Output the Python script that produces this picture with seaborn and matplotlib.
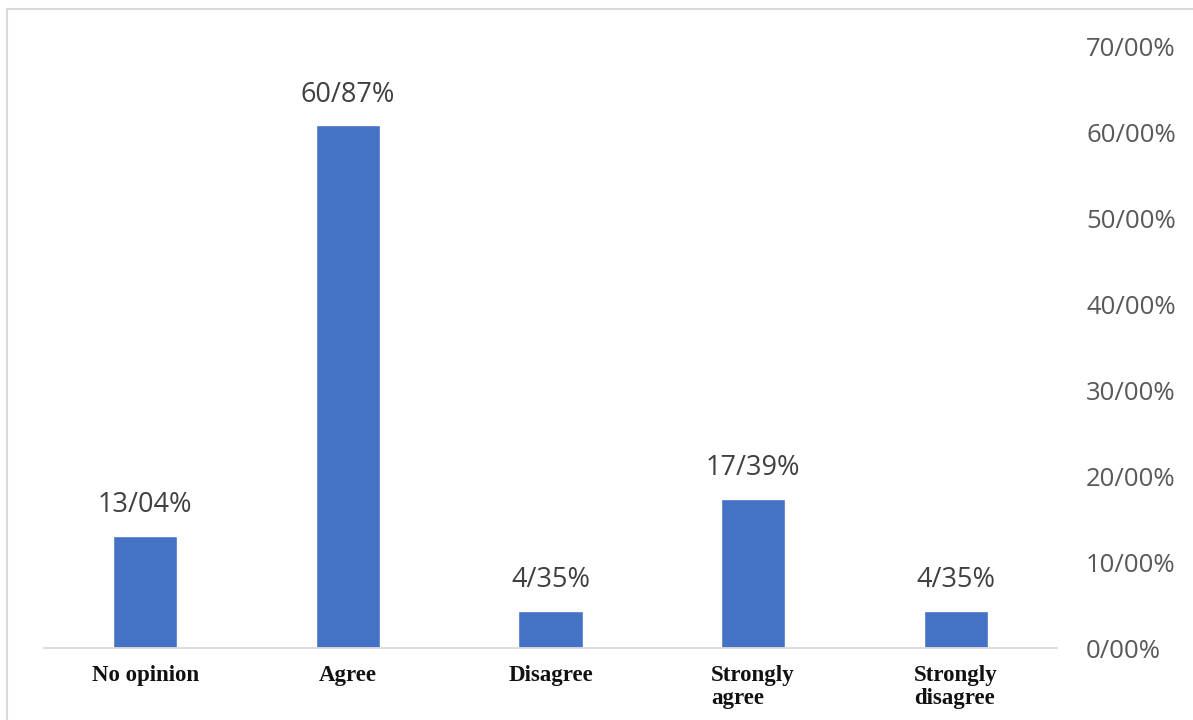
import matplotlib
matplotlib.use("Agg")
import matplotlib.pyplot as plt
import seaborn as sns
import pandas as pd
from matplotlib.patches import Rectangle

categories = ["No opinion", "Agree", "Disagree", "Strongly\nagree", "Strongly\ndisagree"]
values = [13.04, 60.87, 4.35, 17.39, 4.35]
value_labels = ["13/04%", "60/87%", "4/35%", "17/39%", "4/35%"]
yticks = [0, 10, 20, 30, 40, 50, 60, 70]
ytick_labels = ["0/00%", "10/00%", "20/00%", "30/00%", "40/00%", "50/00%", "60/00%", "70/00%"]

sns.set_theme(style="white")
plt.rcParams['font.family'] = ['Open Sans', 'DejaVu Sans']

df = pd.DataFrame({"cat": categories, "val": values})

fig = plt.figure(figsize=(11.93, 7.20), dpi=100)
ax = fig.add_axes([44/1193, 1-648/720, (1057-44)/1193, (648-47)/720])

sns.barplot(data=df, x="cat", y="val", color="#4472C4", saturation=1,
            width=0.316, ax=ax)

ax.set_ylim(0, 70)
ax.set_xlim(-0.5, 4.5)
ax.yaxis.tick_right()
ax.set_yticks(yticks)
ax.set_yticklabels(ytick_labels, fontsize=18.5, color="#595959")
ax.tick_params(axis="y", length=0, pad=21)
ax.tick_params(axis="x", length=0, pad=12)
ax.set_xticks(range(len(categories)))
ax.set_xticklabels(categories, family="Liberation Serif", fontweight="bold",
                   fontsize=16.5, color="#111111", linespacing=1.15,
                   va="top", ha="center", multialignment="left")
ax.set_xlabel("")
ax.set_ylabel("")
for s in ["top", "left", "right"]:
    ax.spines[s].set_visible(False)
ax.spines["bottom"].set_color("#D9D9D9")
ax.spines["bottom"].set_linewidth(1.3)

for i, (v, lab) in enumerate(zip(values, value_labels)):
    ax.annotate(lab, (i, v), xytext=(0, 12), textcoords="offset points",
                ha="center", va="bottom", fontsize=19.5, color="#404040")

fig.patches.append(Rectangle((7/1193, -0.05), 1.2, 1 - 9/720 + 0.05,
                             transform=fig.transFigure, fill=False,
                             edgecolor="#D9D9D9", linewidth=1.5))

fig.savefig("out.png", dpi=100)
